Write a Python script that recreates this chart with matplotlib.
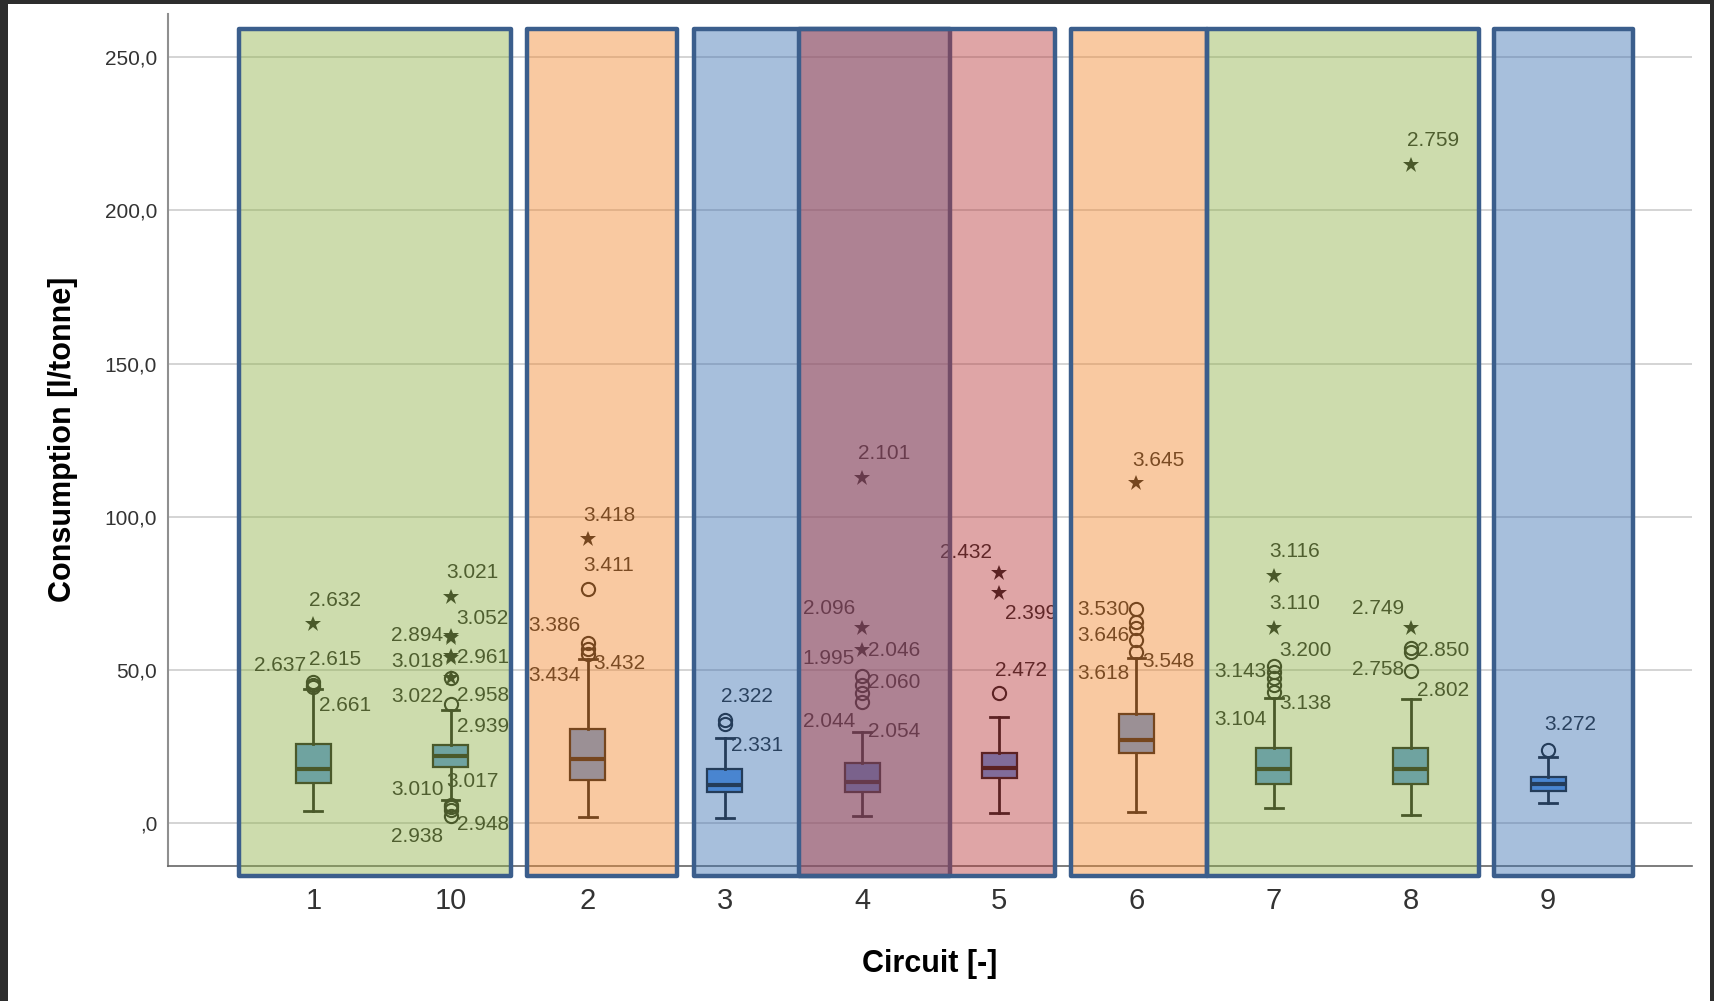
import numpy as np
import matplotlib.pyplot as plt
from matplotlib.patches import Rectangle
from matplotlib.colors import to_rgba

plt.rcParams['font.family'] = ['Liberation Sans', 'DejaVu Sans']

# ---------------- data ----------------
circuits = ['1', '10', '2', '3', '4', '5', '6', '7', '8', '9']
whislo = [4.1, 7.6, 2.2, 1.8, 2.4, 3.3, 3.8, 4.9, 2.7, 6.5]
q1 = [13.3, 18.5, 14.3, 10.1, 10.3, 14.7, 22.8, 13.0, 12.7, 10.5]
med = [17.9, 22.0, 20.9, 12.5, 13.6, 18.2, 27.2, 17.9, 17.6, 13.0]
q3 = [25.9, 25.7, 30.7, 17.7, 19.6, 22.8, 35.7, 24.5, 24.5, 15.0]
whishi = [43.7, 37.0, 53.5, 27.9, 29.9, 34.8, 53.8, 40.8, 40.5, 21.5]

# outliers (circles) and extreme values (stars)
outl = {'1': [46.0, 45.3, 44.6], '10': [47.3, 39.1, 6.0, 5.2, 4.3, 2.4],
        '2': [76.6, 58.9, 57.0, 55.4], '3': [33.7, 32.4],
        '4': [48.0, 45.1, 42.4, 39.7], '5': [42.4],
        '6': [69.8, 65.8, 63.6, 59.8, 55.8], '7': [51.3, 49.5, 47.3, 45.1, 42.9],
        '8': [57.1, 56.0, 49.8], '9': [24.1]}
extr = {'1': [65.0], '10': [73.9, 61.2, 60.6, 54.6, 54.0, 47.3], '2': [92.9],
        '3': [], '4': [112.8, 63.6, 56.5], '5': [81.7, 75.0], '6': [110.9],
        '7': [80.7, 63.8], '8': [214.9, 63.6], '9': []}

# case labels next to the outliers
lab_circuit = (['1'] * 4 + ['10'] * 12 + ['2'] * 5 + ['3'] * 2 + ['4'] * 7 +
               ['5'] * 3 + ['6'] * 5 + ['7'] * 6 + ['8'] * 5 + ['9'])
lab_text = ['2.632', '2.615', '2.637', '2.661',
            '3.021', '3.052', '2.894', '3.018', '2.961', '3.022', '2.958', '2.939',
            '3.017', '3.010', '2.948', '2.938',
            '3.418', '3.411', '3.386', '3.432', '3.434',
            '2.322', '2.331',
            '2.101', '2.096', '1.995', '2.046', '2.060', '2.044', '2.054',
            '2.432', '2.399', '2.472',
            '3.645', '3.530', '3.646', '3.548', '3.618',
            '3.116', '3.110', '3.200', '3.143', '3.138', '3.104',
            '2.759', '2.749', '2.850', '2.758', '2.802',
            '3.272']
lab_y = [72.8, 53.5, 51.6, 38.6,
         81.7, 66.8, 61.4, 52.7, 54.1, 41.3, 41.8, 31.7, 13.6, 11.1, -0.2, -4.3,
         100.5, 84.2, 64.7, 52.2, 48.4,
         41.3, 25.5,
         120.7, 70.1, 53.8, 56.3, 45.9, 33.2, 29.9,
         88.3, 68.5, 49.8,
         118.3, 69.8, 61.4, 52.7, 48.9,
         88.6, 71.7, 56.3, 49.5, 39.1, 33.9,
         222.6, 70.1, 56.3, 50.2, 43.2,
         32.1]
lab_side = ['a', 'a', 'l', 'r',
            'a', 'r', 'l', 'l', 'r', 'l', 'r', 'r', 'a', 'l', 'r', 'l',
            'a', 'a', 'l', 'r', 'l',
            'a', 'r',
            'a', 'l', 'l', 'r', 'r', 'l', 'r',
            'l', 'r', 'a',
            'a', 'l', 'l', 'r', 'l',
            'a', 'a', 'r', 'l', 'r', 'l',
            'a', 'l', 'r', 'l', 'r',
            'a']

# highlight rectangles drawn over the chart (in category units)
reg_left = [-0.542, 1.558, 2.777, 3.538, 5.525, 6.512, 8.605]
reg_right = [1.443, 2.651, 4.641, 5.408, 6.512, 8.495, 9.619]
reg_color = ['#90b249', '#f2882f', '#3c71b2', '#b8383a', '#f2882f', '#90b249', '#3c71b2']
reg_bottom, reg_top = -17.0, 259.2

yticks = [0, 50, 100, 150, 200, 250]
ytick_labels = [',0', '50,0', '100,0', '150,0', '200,0', '250,0']

# ---------------- figure ----------------
W, H = 1714, 1001
fig = plt.figure(figsize=(W / 100, H / 100), dpi=100)
fig.patch.set_facecolor('#2d2d2d')
fig.add_artist(Rectangle((8 / W, 0), 1702 / W, 997 / H, transform=fig.transFigure,
                         facecolor='white', edgecolor='none', zorder=-10))

ax = fig.add_axes([168.3 / W, 1 - 865.7 / H, (1692 - 168.3) / W, (865.7 - 14) / H])
ax.set_facecolor('none')
ax.set_xlim(-1.057, 10.049)
ax.set_ylim(-13.8, 264.0)

for s in ['top', 'right']:
    ax.spines[s].set_visible(False)
ax.spines['left'].set_color('#8f8f8f')
ax.spines['left'].set_linewidth(1.5)
ax.spines['bottom'].set_color('#666666')
ax.spines['bottom'].set_linewidth(1.2)

for yv in yticks:
    ax.axhline(yv, color='#d4d4d4', lw=1.4, zorder=0.5)

pos = np.arange(len(circuits))
stats = [dict(med=med[i], q1=q1[i], q3=q3[i], whislo=whislo[i], whishi=whishi[i], fliers=[])
         for i in range(len(circuits))]
ax.bxp(stats, positions=pos, widths=0.255, capwidths=0.13, patch_artist=True,
       showfliers=False, manage_ticks=False,
       boxprops=dict(facecolor='#5597e9', edgecolor='#111111', linewidth=1.6),
       medianprops=dict(color='#111111', linewidth=3.0),
       whiskerprops=dict(color='#111111', linewidth=2.0),
       capprops=dict(color='#111111', linewidth=2.0))

for i, c in enumerate(circuits):
    if outl[c]:
        ax.plot([i] * len(outl[c]), outl[c], 'o', mfc='none', mec='#111111',
                ms=9.5, mew=1.5, zorder=3, clip_on=False)
    if extr[c]:
        ax.plot([i] * len(extr[c]), extr[c], '*', color='#111111', ms=12,
                mew=0, zorder=3, clip_on=False)

side_dx = {'a': (-4, 'left'), 'r': (6, 'left'), 'l': (-7, 'right')}
for c, t, yv, sd in zip(lab_circuit, lab_text, lab_y, lab_side):
    dx, ha = side_dx[sd]
    ax.annotate(t, xy=(circuits.index(c), yv), xytext=(dx * 0.72, 0),
                textcoords='offset points', ha=ha, va='center',
                fontsize=15, color='#1a1a1a', zorder=3, annotation_clip=False)

# overlay rectangles
for l, r, col in zip(reg_left, reg_right, reg_color):
    ax.add_patch(Rectangle((l, reg_bottom), r - l, reg_top - reg_bottom,
                           facecolor=to_rgba(col, 0.45), edgecolor='#3b5e8c',
                           lw=3.2, joinstyle='round', clip_on=False, zorder=5))

ax.set_yticks(yticks)
ax.set_yticklabels(ytick_labels, fontsize=15, color='#333333')
ax.set_xticks(pos)
ax.set_xticklabels(circuits, fontsize=21, color='#333333')
ax.tick_params(axis='y', length=0, pad=8)
ax.tick_params(axis='x', length=0, pad=15)

fig.text(930 / W, 1 - 971.7 / H, 'Circuit [-]', fontsize=22, fontweight='bold',
         ha='center', va='baseline')
fig.text(71 / W, 1 - 439.5 / H, 'Consumption [l/tonne]', fontsize=22, fontweight='bold',
         rotation=90, rotation_mode='anchor', ha='center', va='baseline')

fig.savefig('out.png', dpi=100)
